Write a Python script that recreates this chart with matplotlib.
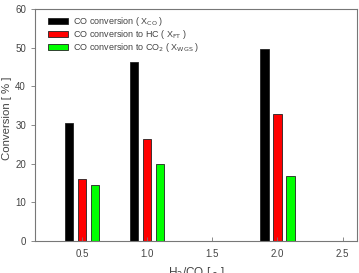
import matplotlib.pyplot as plt
import numpy as np

plt.rcParams['font.family'] = ['Liberation Sans', 'DejaVu Sans']

# H2/CO ratios and conversions [%]
ratio = [0.5, 1.0, 2.0]
x_co = [30.6, 46.4, 49.7]
x_ft = [16.1, 26.5, 32.9]
x_wgs = [14.4, 19.9, 16.9]

labels = [r'CO conversion ( X$_{\rm CO}$ )',
          r'CO conversion to HC ( X$_{\rm FT}$ )',
          r'CO conversion to CO$_2$ ( X$_{\rm WGS}$ )']

fig = plt.figure(figsize=(3.59, 2.73), dpi=100)
ax = fig.add_axes([0.0975, 0.117, 0.897, 0.85])

r = np.array(ratio)
w = 0.065
ax.bar(r - 0.1, x_co, w, color='black', edgecolor='#222222', lw=0.6, label=labels[0])
ax.bar(r, x_ft, w, color='#ff0000', edgecolor='#222222', lw=0.6, label=labels[1])
ax.bar(r + 0.1, x_wgs, w, color='#00ff00', edgecolor='#222222', lw=0.6, label=labels[2])

ax.set_xlim(0.14, 2.61)
ax.set_ylim(0, 60)
ax.set_xticks([0.5, 1.0, 1.5, 2.0, 2.5])
ax.set_xticklabels(['0.5', '1.0', '1.5', '2.0', '2.5'])
ax.set_yticks([0, 10, 20, 30, 40, 50, 60])

tc = '#444444'
for s in ax.spines.values():
    s.set_color('#777777')
    s.set_linewidth(0.8)
ax.tick_params(axis='x', direction='in', length=3, width=0.6, colors='#777777',
               labelcolor=tc, labelsize=7, pad=6)
ax.tick_params(axis='y', direction='out', length=3, width=0.6, colors='#777777',
               labelcolor=tc, labelsize=7)

ax.set_xlabel(r'H$_2$/CO [ - ]', fontsize=8.5, color=tc, labelpad=4)
ax.set_ylabel('Conversion [ % ]', fontsize=8.2, color=tc)
ax.yaxis.set_label_coords(-0.07, 0.53)

ax.legend(loc='upper left', bbox_to_anchor=(0.02, 1.0), frameon=False,
          fontsize=6.5, handlelength=2.2, handleheight=0.7, labelspacing=0.0,
          handletextpad=0.6, labelcolor=tc, borderaxespad=0.3)

plt.savefig('out.png', dpi=100)
